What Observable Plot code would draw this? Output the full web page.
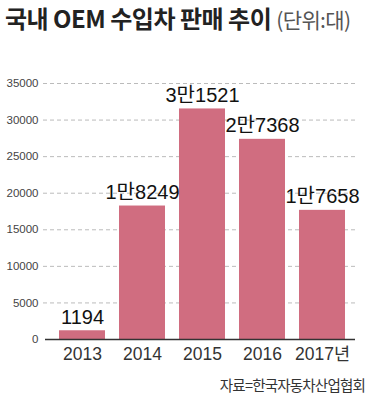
<!DOCTYPE html>
<html><head><meta charset="utf-8">
<script src="https://cdn.jsdelivr.net/npm/d3@7"></script>
<script src="https://cdn.jsdelivr.net/npm/@observablehq/plot@0.6"></script>
<style>
body{margin:0;background:#fff;font-family:"Liberation Sans","Noto Sans CJK KR",sans-serif;}
#wrap{position:relative;width:370px;height:406px;overflow:hidden;}
#title{position:absolute;left:5px;top:0px;white-space:nowrap;font-family:"Noto Sans CJK KR",sans-serif;font-size:24px;font-weight:bold;color:#222;letter-spacing:-0.5px;}
#title span{font-weight:normal;color:#555;font-size:21px;letter-spacing:-0.6px;}
#chart{position:absolute;left:0;top:40px;}
#caption{position:absolute;right:5px;top:374px;font-family:"Noto Sans CJK KR",sans-serif;font-size:14.5px;color:#333;letter-spacing:-0.8px;}
</style></head>
<body><div id="wrap">
<div id="title">국내 OEM 수입차 판매 추이 <span>(단위:대)</span></div>
<div id="chart"></div>
<div id="caption">자료=한국자동차산업협회</div>
</div>
<script>
const years = ["2013","2014","2015","2016","2017년"];
const sales = [1194, 18249, 31521, 27368, 17658];
const valueLabels = ["1194","1만8249","3만1521","2만7368","1만7658"];
const yTicks = [0,5000,10000,15000,20000,25000,30000,35000];
const data = years.map((y,i)=>({year:y, value:sales[i], label:valueLabels[i]}));

const plot = Plot.plot({
  width: 370, height: 330,
  marginTop: 43, marginBottom: 31, marginLeft: 43, marginRight: 15,
  x: {domain: years, paddingInner: 0.24, paddingOuter: 0.186, align: 0.62, label: null},
  y: {domain: [0,35000], label: null},
  style: {background:"#fff"},
  marks: [
    Plot.ruleY(yTicks.filter(d=>d>0), {stroke:"#bbb", strokeDasharray:"4,3", strokeWidth:1}),
    Plot.axisY({ticks: yTicks, tickSize:0, tickPadding:5, tickFormat:d=>String(d), fontSize:11.5, fill:"#444", fontFamily:"Liberation Sans Narrow, Liberation Sans, sans-serif", label:null}),
    Plot.barY(data, {x:"year", y:"value", fill:"#d06d80"}),
    Plot.ruleY([0], {stroke:"#333", strokeWidth:1.5, insetLeft:2}),
    Plot.axisX({tickSize:0, tickPadding:8, fontSize:17.5, fill:"#333", fontFamily:"Liberation Sans, Noto Sans CJK KR, sans-serif", label:null}),
    Plot.text(data, {x:"year", y:"value", text:"label", dy:-7, lineAnchor:"bottom", fontSize:20, fill:"#111", fontFamily:"Liberation Sans, Noto Sans CJK KR, sans-serif", letterSpacing:"-1.8px"})
  ]
});
document.getElementById("chart").appendChild(plot);
</script>
</body></html>
